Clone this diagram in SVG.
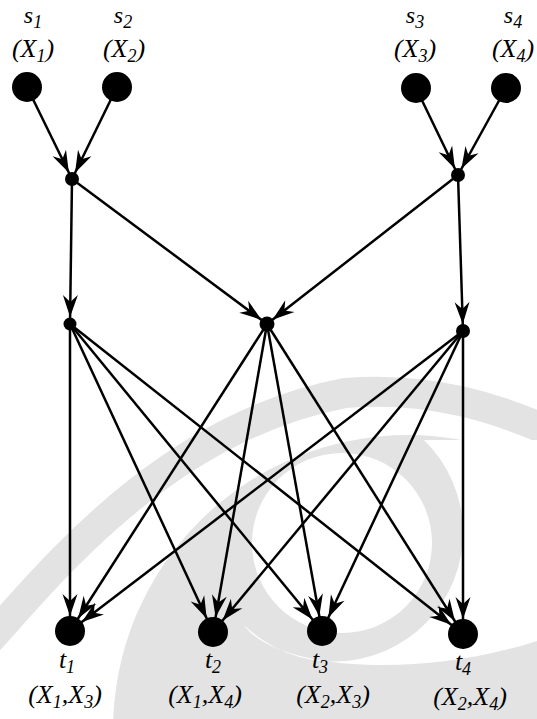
<svg xmlns="http://www.w3.org/2000/svg" width="537" height="719" viewBox="0 0 537 719">
<style>
.wm{fill:#e3e3e3}
.wmb{fill:none;stroke:#e3e3e3;stroke-width:30}
.node{fill:#000}
.edge{stroke:#000;stroke-width:2.5;fill:none}
.e15{marker-end:url(#ah15)}
.e7{marker-end:url(#ah7)}
.lbl{font-size:26px;font-style:italic;text-anchor:middle;fill:#000}
.top{font-size:24px}
.sub{font-size:18px}
</style>
<defs>
<marker id="ah15" markerUnits="userSpaceOnUse" refX="15" refY="0" orient="auto" markerWidth="1" markerHeight="1" style="overflow:visible"><path d="M0,0 L-22,-7.5 L-15,0 L-22,7.5 Z" fill="#000"/></marker>
<marker id="ah7" markerUnits="userSpaceOnUse" refX="7" refY="0" orient="auto" markerWidth="1" markerHeight="1" style="overflow:visible"><path d="M0,0 L-22,-7.5 L-15,0 L-22,7.5 Z" fill="#000"/></marker>
</defs>
<g id="watermark">
<path class="wmb" d="M-25,655 C30,600 150,430 345,393 C430,386 500,408 560,436"/>
<circle class="wm" cx="408" cy="730" r="295"/>
<circle cx="342" cy="543" r="90" fill="#fff"/>
<path fill="#fff" d="M424,440 A128,128 0 0 1 244,625 C275,670 420,680 540,640 L540,440 Z"/>
</g>
<g id="connectors">
<line class="edge e7" x1="27" y1="87" x2="72" y2="179"/>
<line class="edge e7" x1="117" y1="87" x2="72" y2="179"/>
<line class="edge e7" x1="416" y1="88" x2="458" y2="175"/>
<line class="edge e7" x1="506" y1="88" x2="458" y2="175"/>
<line class="edge e7" x1="72" y1="179" x2="70" y2="324"/>
<line class="edge e7" x1="72" y1="179" x2="267" y2="324"/>
<line class="edge e7" x1="458" y1="175" x2="267" y2="324"/>
<line class="edge e7" x1="458" y1="175" x2="463" y2="331"/>
<line class="edge e15" x1="70" y1="324" x2="70" y2="631"/>
<line class="edge e15" x1="70" y1="324" x2="213" y2="632"/>
<line class="edge e15" x1="70" y1="324" x2="322" y2="631"/>
<line class="edge e15" x1="70" y1="324" x2="463" y2="634"/>
<line class="edge e15" x1="267" y1="324" x2="70" y2="631"/>
<line class="edge e15" x1="267" y1="324" x2="213" y2="632"/>
<line class="edge e15" x1="267" y1="324" x2="322" y2="631"/>
<line class="edge e15" x1="267" y1="324" x2="463" y2="634"/>
<line class="edge e15" x1="463" y1="331" x2="70" y2="631"/>
<line class="edge e15" x1="463" y1="331" x2="213" y2="632"/>
<line class="edge e15" x1="463" y1="331" x2="322" y2="631"/>
<line class="edge e15" x1="463" y1="331" x2="463" y2="634"/>
</g>
<g font-family="'Liberation Serif', 'Times New Roman', serif">
<g id="s1"><circle class="node" cx="27" cy="87" r="15"/><text class="lbl top" x="33" y="23">s<tspan class="sub" dy="5">1</tspan></text><text class="lbl" x="33" y="57">(X<tspan class="sub" dy="5">1</tspan><tspan dy="-5">)</tspan></text></g>
<g id="s2"><circle class="node" cx="117" cy="87" r="15"/><text class="lbl top" x="123" y="23">s<tspan class="sub" dy="5">2</tspan></text><text class="lbl" x="124" y="57">(X<tspan class="sub" dy="5">2</tspan><tspan dy="-5">)</tspan></text></g>
<g id="s3"><circle class="node" cx="416" cy="88" r="15"/><text class="lbl top" x="415" y="23">s<tspan class="sub" dy="5">3</tspan></text><text class="lbl" x="415" y="57">(X<tspan class="sub" dy="5">3</tspan><tspan dy="-5">)</tspan></text></g>
<g id="s4"><circle class="node" cx="506" cy="88" r="15"/><text class="lbl top" x="513" y="23">s<tspan class="sub" dy="5">4</tspan></text><text class="lbl" x="513" y="57">(X<tspan class="sub" dy="5">4</tspan><tspan dy="-5">)</tspan></text></g>
<g id="m1"><circle class="node" cx="72" cy="179" r="7"/></g>
<g id="m2"><circle class="node" cx="458" cy="175" r="7"/></g>
<g id="a"><circle class="node" cx="70" cy="324" r="6.5"/></g>
<g id="b"><circle class="node" cx="267" cy="324" r="7.5"/></g>
<g id="c"><circle class="node" cx="463" cy="331" r="7"/></g>
<g id="t1"><circle class="node" cx="70" cy="631" r="15"/><text class="lbl" x="67" y="668">t<tspan class="sub" dy="5">1</tspan></text><text class="lbl" x="65" y="703">(X<tspan class="sub" dy="5">1</tspan><tspan dy="-5">,X</tspan><tspan class="sub" dy="5">3</tspan><tspan dy="-5">)</tspan></text></g>
<g id="t2"><circle class="node" cx="213" cy="632" r="15"/><text class="lbl" x="213" y="668">t<tspan class="sub" dy="5">2</tspan></text><text class="lbl" x="205" y="703">(X<tspan class="sub" dy="5">1</tspan><tspan dy="-5">,X</tspan><tspan class="sub" dy="5">4</tspan><tspan dy="-5">)</tspan></text></g>
<g id="t3"><circle class="node" cx="322" cy="631" r="15"/><text class="lbl" x="320" y="668">t<tspan class="sub" dy="5">3</tspan></text><text class="lbl" x="333" y="703">(X<tspan class="sub" dy="5">2</tspan><tspan dy="-5">,X</tspan><tspan class="sub" dy="5">3</tspan><tspan dy="-5">)</tspan></text></g>
<g id="t4"><circle class="node" cx="463" cy="634" r="15"/><text class="lbl" x="463" y="670">t<tspan class="sub" dy="5">4</tspan></text><text class="lbl" x="470" y="705">(X<tspan class="sub" dy="5">2</tspan><tspan dy="-5">,X</tspan><tspan class="sub" dy="5">4</tspan><tspan dy="-5">)</tspan></text></g>
</g>
</svg>
